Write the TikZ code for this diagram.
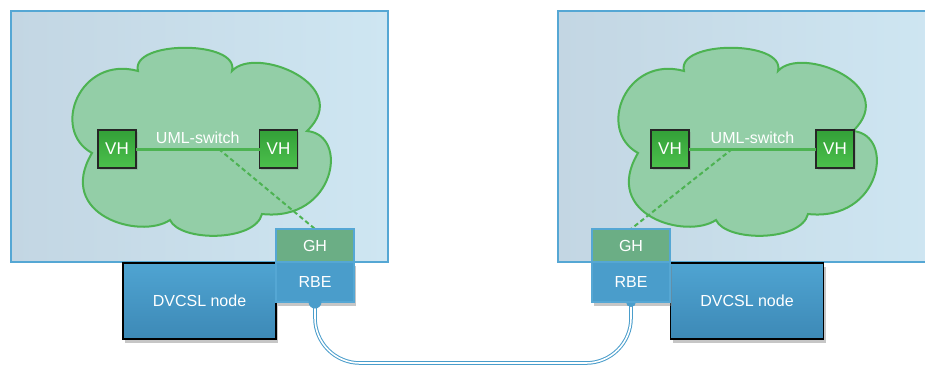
\documentclass[tikz,border=0pt]{standalone}
\usepackage{fontspec}
\setmainfont{Liberation Sans}
\usetikzlibrary{shadows,calc}
\definecolor{frameblue}{HTML}{55A7D4}
\definecolor{bgA}{HTML}{C3D6E3}
\definecolor{bgB}{HTML}{CEE6F2}
\definecolor{cloudfill}{HTML}{93CEA7}
\definecolor{cloudline}{HTML}{4DB352}
\definecolor{vhA}{HTML}{33A038}
\definecolor{vhB}{HTML}{4CC04C}
\definecolor{ghfill}{HTML}{6BAE85}
\definecolor{rbefill}{HTML}{4A9DCB}
\definecolor{dvA}{HTML}{3D89B6}
\definecolor{dvB}{HTML}{4FA4D2}
\definecolor{cablecol}{HTML}{4A9DCB}
\begin{document}
\begin{tikzpicture}[x=1pt,y=-1pt,
  every node/.style={inner sep=0pt, outer sep=0pt, text=white, font=\fontsize{16}{19}\selectfont},
  framebox/.style={draw=frameblue, line width=2.5pt, left color=bgA, right color=bgB, anchor=north west},
  cloudstyle/.style={draw=cloudline, line width=2pt, fill=cloudfill},
  vhbox/.style={draw=black!85, line width=1.2pt, top color=vhA, bottom color=vhB, minimum width=38pt, minimum height=38pt, font=\fontsize{17}{20}\selectfont, drop shadow={opacity=0.3, shadow xshift=1.5pt, shadow yshift=-2pt}},
  umlline/.style={draw=cloudline, line width=3pt},
  dashgreen/.style={draw=cloudline, line width=2pt, dash pattern=on 4.5pt off 3pt},
  dvbox/.style={draw=black, line width=1.5pt, top color=dvB, bottom color=dvA, minimum width=153pt, minimum height=76pt, drop shadow={opacity=0.45, shadow xshift=2pt, shadow yshift=-4pt}},
  ghbox/.style={fill=ghfill, minimum width=78pt, minimum height=33pt},
  rbebox/.style={fill=rbefill, minimum width=78pt, minimum height=40pt, drop shadow={opacity=0.45, shadow xshift=2pt, shadow yshift=-4pt}},
  gbframe/.style={draw=frameblue, line width=2.5pt},
  cable/.style={draw=cablecol, line width=1pt, double=white, double distance=1.6pt, rounded corners=45pt},
  cloudpic/.pic={
    \path[cloudstyle] (138,71) .. controls (130,40) and (240,40) .. (232,71)
      .. controls (255,45) and (355,85) .. (307,131)
      .. controls (350,135) and (335,222) .. (262,214)
      .. controls (255,242) and (180,242) .. (170,220)
      .. controls (140,240) and (55,215) .. (92,153)
      .. controls (50,130) and (80,55) .. (138,71) -- cycle;
  }
]
\useasboundingbox (0,0) rectangle (925,365);

% frames
\node[framebox, minimum width=377pt, minimum height=251pt] (frameL) at (11,11) {};
\node[framebox, minimum width=377pt, minimum height=251pt] (frameR) at (558,11) {};

% clouds
\pic at (0,0) {cloudpic};
\pic at (546,0) {cloudpic};

% VH nodes
\node[vhbox] (vhL1) at (117,149) {VH};
\node[vhbox] (vhL2) at (278.5,149) {VH};
\node[vhbox] (vhR1) at (670,149) {VH};
\node[vhbox] (vhR2) at (835,149) {VH};

% GH / RBE
\node[ghbox] (ghL) at (315,245.5) {GH};
\node[ghbox] (ghR) at (631,245.5) {GH};

% switch lines
\draw[umlline] (vhL1) -- node[midway, yshift=11pt] (umlL) {UML-switch} (vhL2);
\draw[umlline] (vhR1) -- node[midway, yshift=11pt] (umlR) {UML-switch} (vhR2);

% dashed links
\draw[dashgreen] ($(vhL1.east)!0.67!(vhL2.west)$) -- (ghL.north);
\draw[dashgreen] ($(vhR1.east)!0.34!(vhR2.west)$) -- (ghR.north);

% DVCSL nodes
\node[dvbox] (dvL) at (199.5,301) {DVCSL node};
\node[dvbox] (dvR) at (747,301) {DVCSL node};

% RBE
\node[rbebox] (rbeL) at (315,282) {RBE};
\node[rbebox] (rbeR) at (631,282) {RBE};

% cable
\coordinate (cablebot) at (473,363);
\draw[cable] (rbeL.south) |- (cablebot) -| (rbeR.south);
\fill[cablecol] (rbeR.south) circle (5pt);

% redraw GH/RBE on top
\node[ghbox] at (ghL) {GH};
\node[ghbox] at (ghR) {GH};
\node[fill=rbefill, minimum width=78pt, minimum height=40pt] at (rbeL) {RBE};
\node[fill=rbefill, minimum width=78pt, minimum height=40pt] at (rbeR) {RBE};
\draw[gbframe] (ghL.north west) rectangle (rbeL.south east);
\draw[gbframe] (ghR.north west) rectangle (rbeR.south east);
\draw[frameblue, line width=1.5pt] (ghL.south west) -- (ghL.south east);
\draw[frameblue, line width=1.5pt] (ghR.south west) -- (ghR.south east);

\fill[cablecol] (rbeL.south) circle (6.5pt);
\end{tikzpicture}
\end{document}
